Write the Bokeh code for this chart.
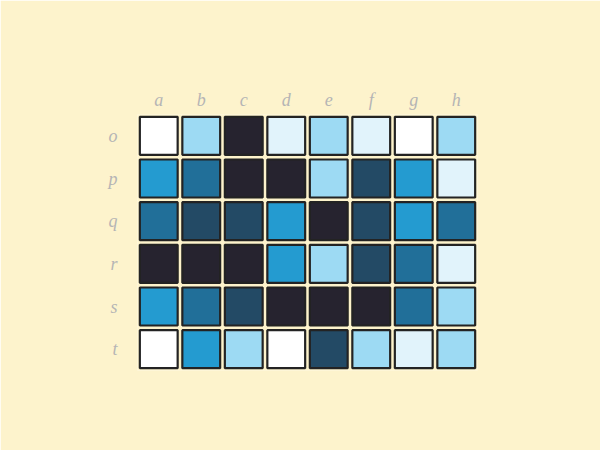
from bokeh.plotting import figure
from bokeh.models import FactorRange, ColumnDataSource, CategoricalAxis
from bokeh.embed import file_html
from bokeh.resources import INLINE

cols = ["a", "b", "c", "d", "e", "f", "g", "h"]
rows = ["o", "p", "q", "r", "s", "t"]
# level per cell (0 = lightest, 6 = darkest), rows o..t
levels_o = [0, 2, 6, 1, 2, 1, 0, 2]
levels_p = [3, 4, 6, 6, 2, 5, 3, 1]
levels_q = [4, 5, 5, 3, 6, 5, 3, 4]
levels_r = [6, 6, 6, 3, 2, 5, 4, 1]
levels_s = [3, 4, 5, 6, 6, 6, 4, 2]
levels_t = [0, 3, 2, 0, 5, 2, 1, 2]
palette = ["#ffffff", "#e1f3fb", "#9ddaf3", "#249bd0", "#216f99", "#234a65", "#26232f"]

grid = [levels_o, levels_p, levels_q, levels_r, levels_s, levels_t]
xs, ys, cs = [], [], []
for r, lv in zip(rows, grid):
    for c, v in zip(cols, lv):
        xs.append(c)
        ys.append(r)
        cs.append(palette[v])
src = ColumnDataSource(dict(x=xs, y=ys, color=cs))

bg = "#fdf3cc"
p = figure(width=600, height=450, output_backend="svg", toolbar_location=None,
           x_range=FactorRange(*cols, range_padding=0),
           y_range=FactorRange(*reversed(rows), range_padding=0),
           x_axis_location=None, y_axis_location=None,
           min_border_left=137, min_border_right=123,
           min_border_top=114, min_border_bottom=80)
p.background_fill_color = bg
p.border_fill_color = bg
p.outline_line_color = None
p.xgrid.grid_line_color = None
p.ygrid.grid_line_color = None

p.rect(x="x", y="y", width=0.89, height=0.89, source=src,
       fill_color="color", line_color="#232323", line_width=2.2)

for loc, standoff in (("above", 5), ("left", 20)):
    ax = CategoricalAxis()
    ax.axis_line_color = None
    ax.major_tick_line_color = None
    ax.minor_tick_line_color = None
    ax.major_tick_out = 0
    ax.major_label_text_color = "#b5b5b5"
    ax.major_label_text_font = "Liberation Serif"
    ax.major_label_text_font_style = "italic"
    ax.major_label_text_font_size = "18px"
    ax.major_label_standoff = standoff
    p.add_layout(ax, loc)

open("out.html", "w").write(file_html(p, INLINE))
